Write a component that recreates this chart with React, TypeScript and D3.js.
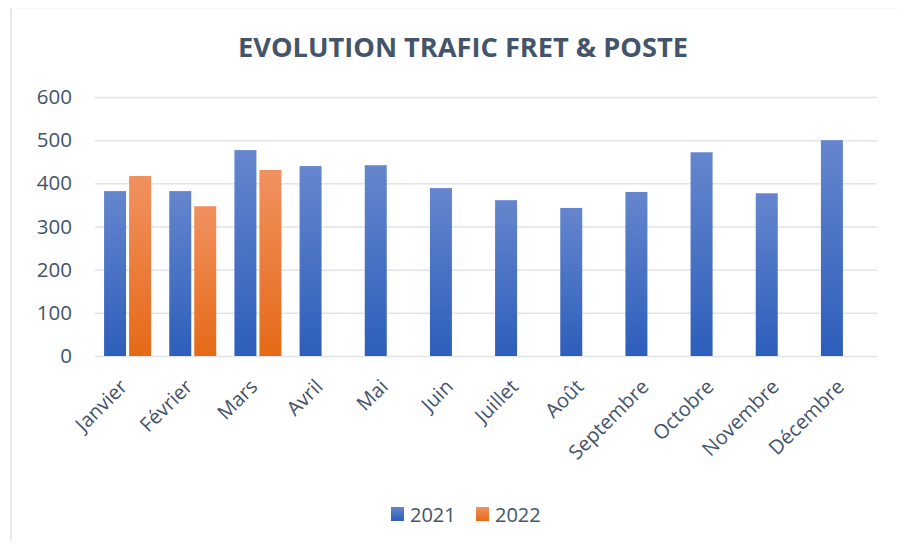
import React from "react";
import * as d3 from "d3";

const months = ["Janvier", "Février", "Mars", "Avril", "Mai", "Juin", "Juillet", "Août", "Septembre", "Octobre", "Novembre", "Décembre"];
const values2021 = [382, 382, 477, 440, 442, 389, 361, 343, 380, 472, 377, 500];
const values2022 = [417, 347, 431];
const yTicks = [0, 100, 200, 300, 400, 500, 600];
const seriesNames = ["2021", "2022"];

export default function App() {
    const ref = React.useRef<HTMLDivElement>(null);

    React.useEffect(() => {
        d3.select(ref.current).select("svg").remove();
        drawChart();
    }, []);

    function drawChart() {
        const width = 908;
        const height = 549;
        const margin = { top: 97, right: 31, bottom: 193, left: 95 };
        const textColor = "#44546a";
        const font = "'Open Sans', sans-serif";

        const svg = d3.select(ref.current).append("svg")
            .attr("width", width)
            .attr("height", height)
            .style("display", "block");

        // gradients for the bars
        const defs = svg.append("defs");
        const grads = [
            { id: "g2021", top: "#6586cd", bottom: "#2d5ebb" },
            { id: "g2022", top: "#f19160", bottom: "#e56a17" },
        ];
        grads.forEach((g) => {
            const lg = defs.append("linearGradient").attr("id", g.id)
                .attr("x1", 0).attr("y1", 0).attr("x2", 0).attr("y2", 1);
            lg.append("stop").attr("offset", "0%").attr("stop-color", g.top);
            lg.append("stop").attr("offset", "100%").attr("stop-color", g.bottom);
        });

        svg.append("rect")
            .attr("width", width).attr("height", height).attr("fill", "#ffffff");
        svg.append("rect")
            .attr("x", 11).attr("y", 7.5)
            .attr("width", 894).attr("height", 560)
            .attr("fill", "#ffffff")
            .attr("stroke", "#dfe3e8")
            .attr("stroke-width", 1.5);

        svg.append("text")
            .attr("x", 463)
            .attr("y", 57)
            .attr("text-anchor", "middle")
            .attr("font-family", font)
            .attr("font-weight", "bold")
            .attr("font-size", 26)
            .attr("fill", textColor)
            .attr("textLength", 450)
            .attr("lengthAdjust", "spacingAndGlyphs")
            .text("EVOLUTION TRAFIC FRET & POSTE");

        const x = d3.scaleBand()
            .domain(months)
            .range([margin.left, width - margin.right]);

        const y = d3.scaleLinear()
            .domain([0, 600])
            .range([356, margin.top]);

        const yGrid = d3.axisLeft(y).tickValues(yTicks).tickSize(-(width - margin.right - margin.left)).tickFormat(() => "");
        const gGrid = svg.append("g")
            .attr("transform", `translate(${margin.left},0)`)
            .call(yGrid);
        gGrid.select(".domain").remove();
        gGrid.selectAll("line").attr("stroke", "#e1e4e9").attr("stroke-width", 1.5);

        const yAxis = d3.axisLeft(y).tickValues(yTicks).tickSize(0).tickPadding(23);
        const gY = svg.append("g")
            .attr("transform", `translate(${margin.left},0)`)
            .call(yAxis);
        gY.select(".domain").remove();
        gY.selectAll("text")
            .attr("font-family", font)
            .attr("font-size", 20.5)
            .attr("fill", textColor);

        const barW = 22;
        const gap = 3;
        const offset = (x.bandwidth() - (2 * barW + gap)) / 2;

        svg.selectAll("rect.s2021")
            .data(values2021)
            .enter()
            .append("rect")
            .attr("class", "s2021")
            .attr("x", (d, i) => x(months[i])! + offset)
            .attr("y", (d) => y(d))
            .attr("width", barW)
            .attr("height", (d) => y(0) - y(d))
            .attr("fill", "url(#g2021)");

        svg.selectAll("rect.s2022")
            .data(values2022)
            .enter()
            .append("rect")
            .attr("class", "s2022")
            .attr("x", (d, i) => x(months[i])! + offset + barW + gap)
            .attr("y", (d) => y(d))
            .attr("width", barW)
            .attr("height", (d) => y(0) - y(d))
            .attr("fill", "url(#g2022)");

        // x labels rotated
        svg.append("g")
            .selectAll("text")
            .data(months)
            .enter()
            .append("text")
            .attr("transform", (d) => `translate(${x(d)! + x.bandwidth() / 2 - 4},${383}) rotate(-45)`)
            .attr("text-anchor", "end")
            .attr("dy", "0.35em")
            .attr("font-family", font)
            .attr("font-size", 20)
            .attr("fill", textColor)
            .text((d) => d);

        // legend
        const legend = [
            { name: seriesNames[0], grad: "url(#g2021)", x: 391 },
            { name: seriesNames[1], grad: "url(#g2022)", x: 476 },
        ];
        const lg = svg.append("g");
        legend.forEach((l) => {
            lg.append("rect")
                .attr("x", l.x).attr("y", 507)
                .attr("width", 13).attr("height", 14)
                .attr("fill", l.grad);
            lg.append("text")
                .attr("x", l.x + 19).attr("y", 522)
                .attr("font-family", font)
                .attr("font-size", 20)
                .attr("fill", textColor)
                .text(l.name);
        });
    }

    return <div ref={ref} style={{ margin: -8 }} />;
}
